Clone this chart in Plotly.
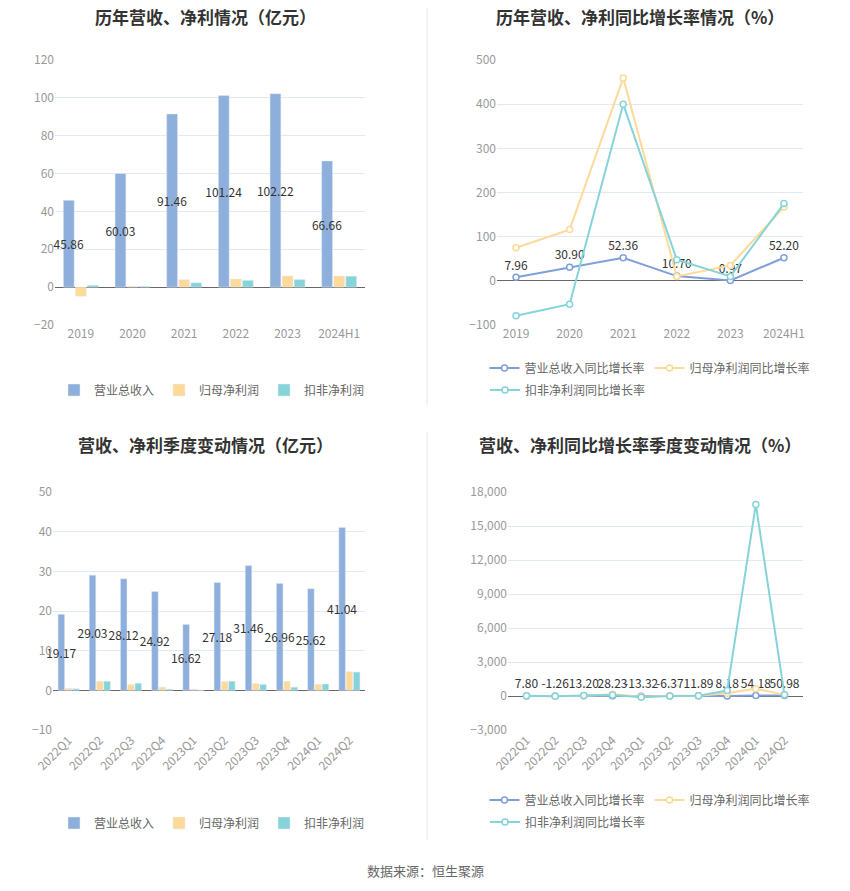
import plotly.graph_objects as go

years = ["2019", "2020", "2021", "2022", "2023", "2024H1"]
revenue = [45.86, 60.03, 91.46, 101.24, 102.22, 66.66]
net_profit = [-4.8, 0.5, 3.9, 4.3, 5.9, 5.9]
deducted = [1.0, 0.4, 2.3, 3.6, 4.0, 5.8]

rev_yoy = [7.96, 30.90, 52.36, 10.70, 0.97, 52.20]
np_yoy = [75, 116, 459, 10, 35, 167]
ded_yoy = [-79, -53, 400, 48, 10, 175]

quarters = ["2022Q1", "2022Q2", "2022Q3", "2022Q4", "2023Q1",
            "2023Q2", "2023Q3", "2023Q4", "2024Q1", "2024Q2"]
q_revenue = [19.17, 29.03, 28.12, 24.92, 16.62, 27.18, 31.46, 26.96, 25.62, 41.04]
q_net_profit = [0.5, 2.3, 1.5, 0.8, 0.3, 2.2, 1.7, 2.3, 1.5, 4.7]
q_deducted = [0.4, 2.3, 1.8, 0.3, 0.05, 2.3, 1.5, 0.8, 1.6, 4.6]

q_rev_yoy = [7.80, -1.26, 13.20, 28.23, -13.32, -6.37, 11.89, 8.18, 54.18, 50.98]
q_np_yoy = [10, -20, 30, 150, -60, 20, 30, 250, 650, 100]
q_ded_yoy = [20, -30, 40, 80, -120, 10, 20, 480, 16900, 100]

BLUE = "#8eaedb"
BLUE_LINE = "#7f9fd8"
ORANGE = "#fdd99a"
TEAL = "#86d4d9"
FONT = "Noto Sans CJK SC"
W, H = 850, 891
OFF = 8  # page body margin


def px(x):
    return (x - OFF) / W


def py(y):
    return 1 - (y - OFF) / H


fig = go.Figure()


def bars(x, rev, np_, ded, xa, ya, lg):
    fig.add_trace(go.Bar(x=x, y=rev, name="营业总收入", marker_color=BLUE,
                         text=[f"{v:.2f}" for v in rev], textposition="inside",
                         insidetextanchor="middle", constraintext="none", textangle=0,
                         textfont=dict(color="#333", size=12), cliponaxis=False,
                         xaxis=xa, yaxis=ya, legend=lg))
    fig.add_trace(go.Bar(x=x, y=np_, name="归母净利润", marker_color=ORANGE,
                         xaxis=xa, yaxis=ya, legend=lg))
    fig.add_trace(go.Bar(x=x, y=ded, name="扣非净利润", marker_color=TEAL,
                         xaxis=xa, yaxis=ya, legend=lg))


def lines(x, rev, np_, ded, xa, ya, lg, lg_extra):
    fig.add_trace(go.Scatter(x=x, y=rev, name="营业总收入同比增长率",
                             mode="lines+markers+text", text=[f"{v:.2f}" for v in rev],
                             textposition="top center", textfont=dict(color="#333", size=12),
                             line=dict(color=BLUE_LINE, width=2), cliponaxis=False,
                             marker=dict(size=6, color="white", line=dict(color=BLUE_LINE, width=1.5)),
                             xaxis=xa, yaxis=ya, legend=lg))
    fig.add_trace(go.Scatter(x=x, y=np_, name="归母净利润同比增长率", mode="lines+markers",
                             line=dict(color=ORANGE, width=2),
                             marker=dict(size=6, color="white", line=dict(color=ORANGE, width=1.5)),
                             xaxis=xa, yaxis=ya, legend=lg))
    fig.add_trace(go.Scatter(x=x, y=ded, name="扣非净利润同比增长率", mode="lines+markers",
                             line=dict(color=TEAL, width=2),
                             marker=dict(size=6, color="white", line=dict(color=TEAL, width=1.5)),
                             xaxis=xa, yaxis=ya, legend=lg_extra))


bars(years, revenue, net_profit, deducted, "x", "y", "legend")
lines(years, rev_yoy, np_yoy, ded_yoy, "x2", "y2", "legend2", "legend5")
bars(quarters, q_revenue, q_net_profit, q_deducted, "x3", "y3", "legend3")
lines(quarters, q_rev_yoy, q_np_yoy, q_ded_yoy, "x4", "y4", "legend4", "legend6")

grid = "#e3e8f5"
tick = dict(color="#999", size=12)


def xax(x0, x1, anchor, angle=0):
    return dict(domain=[px(x0), px(x1)], anchor=anchor, showgrid=False, tickfont=tick,
                tickangle=angle, ticks="", showline=False, fixedrange=True,
                automargin=False)


def yax(y0, y1, anchor, rng, dtick, fmt=""):
    return dict(domain=[py(y1), py(y0)], anchor=anchor, range=rng, dtick=dtick, gridcolor=grid,
                tickfont=tick, zeroline=True, zerolinecolor="#666", zerolinewidth=1,
                tickformat=fmt, showline=False, fixedrange=True, automargin=False)


def leg(x, y, anchor="center"):
    return dict(x=px(x), y=py(y), xanchor=anchor, yanchor="middle", orientation="h",
                font=dict(color="#666", size=12), bgcolor="rgba(0,0,0,0)")


def title(text, x, y):
    return dict(text=f"<b>{text}</b>", x=px(x), y=py(y), xref="paper", yref="paper",
                xanchor="center", yanchor="middle", showarrow=False,
                font=dict(size=17, color="#333"))


fig.update_layout(
    width=W, height=H, margin=dict(l=0, r=0, t=0, b=0, autoexpand=False),
    paper_bgcolor="white", plot_bgcolor="white",
    font=dict(family=FONT), barmode="group", bargap=0.3, bargroupgap=0.1,
    xaxis=xax(55, 365, "y"),
    yaxis=yax(60, 325, "x", [-20, 120], 20),
    xaxis2=xax(497, 803, "y2"),
    yaxis2=yax(60, 325, "x2", [-100, 500], 100),
    xaxis3=xax(53, 365, "y3", -45),
    yaxis3=yax(492, 730, "x3", [-10, 50], 10),
    xaxis4=xax(508, 803, "y4", -45),
    yaxis4=yax(492, 730, "x4", [-3000, 18000], 3000, ",d"),
    legend=leg(212, 390),
    legend2=leg(650, 368),
    legend5=leg(485, 390, "left"),
    legend3=leg(212, 823),
    legend4=leg(650, 800),
    legend6=leg(485, 822, "left"),
    showlegend=True,
    annotations=[
        title("历年营收、净利情况（亿元）", 205, 17),
        title("历年营收、净利同比增长率情况（%）", 640, 17),
        title("营收、净利季度变动情况（亿元）", 205, 444),
        title("营收、净利同比增长率季度变动情况（%）", 640, 444),
        dict(text="数据来源：恒生聚源", x=px(425), y=py(870), xref="paper", yref="paper",
             showarrow=False, yanchor="middle", font=dict(size=13, color="#666")),
    ],
    shapes=[
        dict(type="line", xref="paper", yref="paper", x0=px(427), x1=px(427),
             y0=py(405), y1=py(8), line=dict(color="#e6e6e6", width=1)),
        dict(type="line", xref="paper", yref="paper", x0=px(427), x1=px(427),
             y0=py(840), y1=py(432), line=dict(color="#e6e6e6", width=1)),
    ],
)

fig.write_html("out.html")
